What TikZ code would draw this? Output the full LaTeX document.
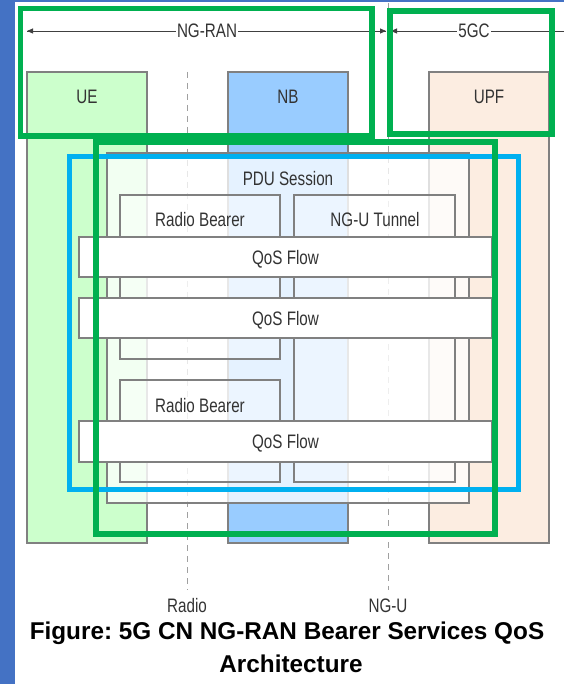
\documentclass[tikz,border=0pt]{standalone}
\usepackage{fontspec}
\setmainfont{Liberation Sans}
\usepackage{graphicx}
\usetikzlibrary{arrows.meta,shadows}
\definecolor{stripblue}{HTML}{4472C4}
\definecolor{uefill}{HTML}{CCFFCC}
\definecolor{nbfill}{HTML}{99CCFF}
\definecolor{upffill}{HTML}{FCEDE1}
\definecolor{boxgray}{HTML}{808080}
\definecolor{labgray}{HTML}{333333}
\definecolor{dashgray}{HTML}{A0A0A0}
\definecolor{hlgreen}{HTML}{00B050}
\definecolor{hlblue}{HTML}{00B0F0}
\newcommand\nrw[1]{\scalebox{0.78}[1]{#1}}
\frenchspacing
\begin{document}
\begin{tikzpicture}[x=1pt,y=-1pt,
  box/.style={draw=boxgray, line width=1.1pt, anchor=north west, inner sep=0pt, outer sep=0pt},
  lbl/.style={font=\fontsize{19.5}{22}\selectfont, text=labgray, text height=14pt, text depth=0pt, inner sep=0pt},
  iface/.style={draw=dashgray, line width=1pt, dash pattern=on 6pt off 5pt},
  span/.style={draw=black!75, line width=0.8pt},
  tip/.style={-{Triangle[length=6pt,width=5pt]}},
  qos/.style={box, fill=white, drop shadow={shadow xshift=1pt, shadow yshift=-1.2pt, opacity=0.35}},
  frameg/.style={draw=hlgreen, line width=5.5pt},
  frameb/.style={draw=hlblue, line width=5pt},
  capline/.style={font=\fontsize{24.3}{28}\selectfont\bfseries, text=black, inner sep=0pt, anchor=base}]
\useasboundingbox (0,0) rectangle (564,684);
\fill[white] (0,0) rectangle (564,684);
\fill[stripblue] (0,0) rectangle (15,684);
\fill[stripblue] (0,0) rectangle (564,1.6);

% interface lines
\coordinate (radT) at (187,72);
\coordinate (radB) at (187,590);
\coordinate (nguT) at (388.5,3);
\coordinate (nguB) at (388.5,590);
\draw[iface] (radT) -- (radB);
\draw[iface] (nguT) -- (nguB);

% domain span arrows
\coordinate (ranL) at (27,31);
\coordinate (ranR) at (386,31);
\coordinate (gcL) at (391,31);
\coordinate (gcR) at (564,31);
\draw[span, tip] (ranR) -- (ranL);
\draw[span, tip] (ranL) -- (ranR);
\draw[span, tip] (gcR) -- (gcL);
\node[lbl, fill=white, inner xsep=1pt] (ranlab) at (207,31) {\nrw{NG-RAN}};
\node[lbl, fill=white, inner xsep=1pt] (gclab) at (474,31) {\nrw{5GC}};

% network entities
\node[box, fill=uefill, minimum width=120pt, minimum height=471pt] (ue) at (27,72) {};
\node[box, fill=nbfill, minimum width=120pt, minimum height=471pt] (nb) at (228,72) {};
\node[box, fill=upffill, minimum width=120pt, minimum height=471pt] (upf) at (429,72) {};
\node[lbl] (uelab) at (87,97) {\nrw{UE}};
\node[lbl] (nblab) at (288,97) {\nrw{NB}};
\node[lbl] (upflab) at (489,97) {\nrw{UPF}};

% PDU session
\node[box, fill=white, fill opacity=0.75, minimum width=362pt, minimum height=350pt] (pdu) at (107,153) {};
\node[lbl] (pdulab) at (288,179) {\nrw{PDU Session}};

% bearers and tunnel
\node[box, fill=white, fill opacity=0.3, minimum width=160pt, minimum height=164pt] (rb1) at (120,195) {};
\node[box, fill=white, fill opacity=0.3, minimum width=160pt, minimum height=102pt] (rb2) at (120,380) {};
\node[box, fill=white, fill opacity=0.3, minimum width=161pt, minimum height=287pt] (tun) at (294,195) {};
\node[lbl] (rb1lab) at (200,220) {\nrw{Radio Bearer}};
\node[lbl] (rb2lab) at (200,405) {\nrw{Radio Bearer}};
\node[lbl] (tunlab) at (375,220) {\nrw{NG-U Tunnel}};

% QoS flows
\node[qos, minimum width=413pt, minimum height=40pt] (q1) at (79,237) {};
\node[qos, minimum width=413pt, minimum height=40pt] (q2) at (79,298) {};
\node[qos, minimum width=413pt, minimum height=41pt] (q3) at (79,421) {};
\node[lbl] (q1lab) at (q1.center) {\nrw{QoS Flow}};
\node[lbl] (q2lab) at (q2.center) {\nrw{QoS Flow}};
\node[lbl] (q3lab) at (q3.center) {\nrw{QoS Flow}};

% highlight frames
\draw[frameb] (69.5,157) rectangle (518,489);
\draw[frameg] (20.5,8.5) rectangle (372,136);
\draw[frameg] (390,11) rectangle (552,134);
\draw[frameg] (96,142) rectangle (495,534);

% interface labels
\node[lbl] (radlab) at (187,605) {\nrw{Radio}};
\node[lbl] (ngulab) at (388,605) {\nrw{NG-U}};

% caption
\node[capline] (cap1) at (287,639) {Figure: 5G CN NG-RAN Bearer Services QoS};
\node[capline] (cap2) at (291,672) {Architecture};
\end{tikzpicture}
\end{document}
